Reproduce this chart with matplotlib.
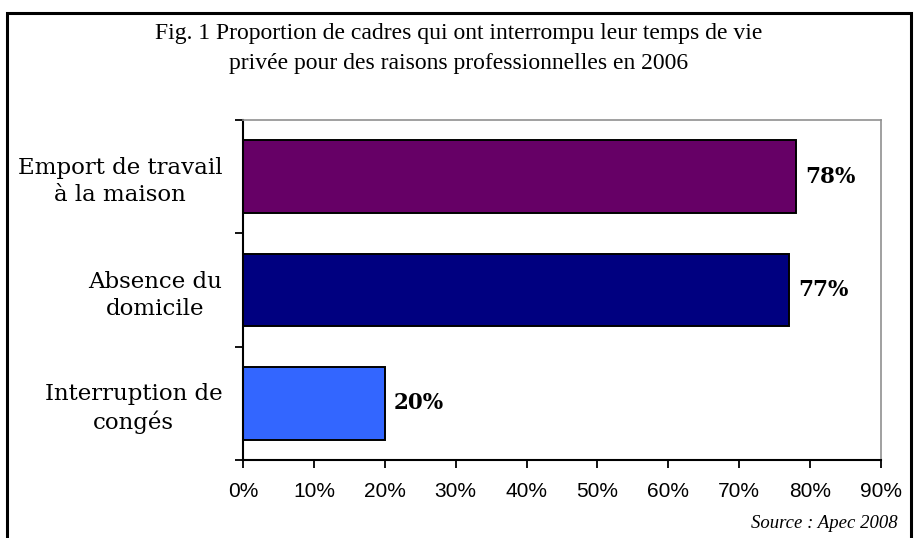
import matplotlib.pyplot as plt
from matplotlib.patches import Rectangle

categories = ["Interruption de\ncongés", "Absence du\ndomicile", "Emport de travail\nà la maison"]
values = [20, 77, 78]
colors = ["#3366FF", "#000080", "#660066"]
xticks = [0, 10, 20, 30, 40, 50, 60, 70, 80, 90]

W, H = 917, 538
fig = plt.figure(figsize=(W / 100, H / 100), dpi=100)

# outer frame (bottom edge goes off the picture)
fig.add_artist(Rectangle((7 / W, -0.05), (911 - 7) / W, (1 - 13 / H) + 0.05,
                         transform=fig.transFigure, fill=False, ec="black", lw=2.2))

ax = fig.add_axes([243 / W, 1 - 460 / H, (881 - 243) / W, (460 - 120) / H])
ax.barh(range(len(values)), values, height=0.64, color=colors, edgecolor="black", linewidth=1.4)
ax.set_xlim(0, 90)
ax.set_ylim(-0.5, 2.5)

ax.set_xticks(xticks)
ax.set_xticklabels([f"{t}%" for t in xticks], family="Liberation Sans", fontsize=15)
ax.tick_params(axis="x", direction="out", length=5.5, width=1.3, pad=10)

ax.set_yticks([-0.5, 0.5, 1.5, 2.5])
ax.set_yticklabels([])
ax.tick_params(axis="y", direction="out", length=6, width=1.3)
ax.set_yticks(range(len(categories)), minor=True)
ax.set_yticklabels(categories, minor=True, family="DejaVu Serif", fontsize=16.5,
                   ha="right", linespacing=1.3)
for lab in ax.get_yticklabels(minor=True):
    lab.set_multialignment("center")
ax.tick_params(axis="y", which="minor", length=0, pad=15)

for s in ["left", "bottom"]:
    ax.spines[s].set_linewidth(1.5)
    ax.spines[s].set_color("black")
for s in ["top", "right"]:
    ax.spines[s].set_linewidth(1.2)
    ax.spines[s].set_color("#909090")

for i, v in enumerate(values):
    ax.text(v + 1.3, i, f"{v}%", va="center", ha="left", family="DejaVu Serif",
            fontweight="bold", fontsize=15.5)

fig.text(459 / W, 1 - 33 / H, "Fig. 1 Proportion de cadres qui ont interrompu leur temps de vie",
         ha="center", va="center", family="Liberation Serif", fontsize=17)
fig.text(459 / W, 1 - 63 / H, "privée pour des raisons professionnelles en 2006",
         ha="center", va="center", family="Liberation Serif", fontsize=17)
fig.text(898 / W, 1 - 523 / H, "Source : Apec 2008", ha="right", va="center",
         family="Liberation Serif", style="italic", fontsize=13.5)

fig.savefig("out.png", dpi=100)
